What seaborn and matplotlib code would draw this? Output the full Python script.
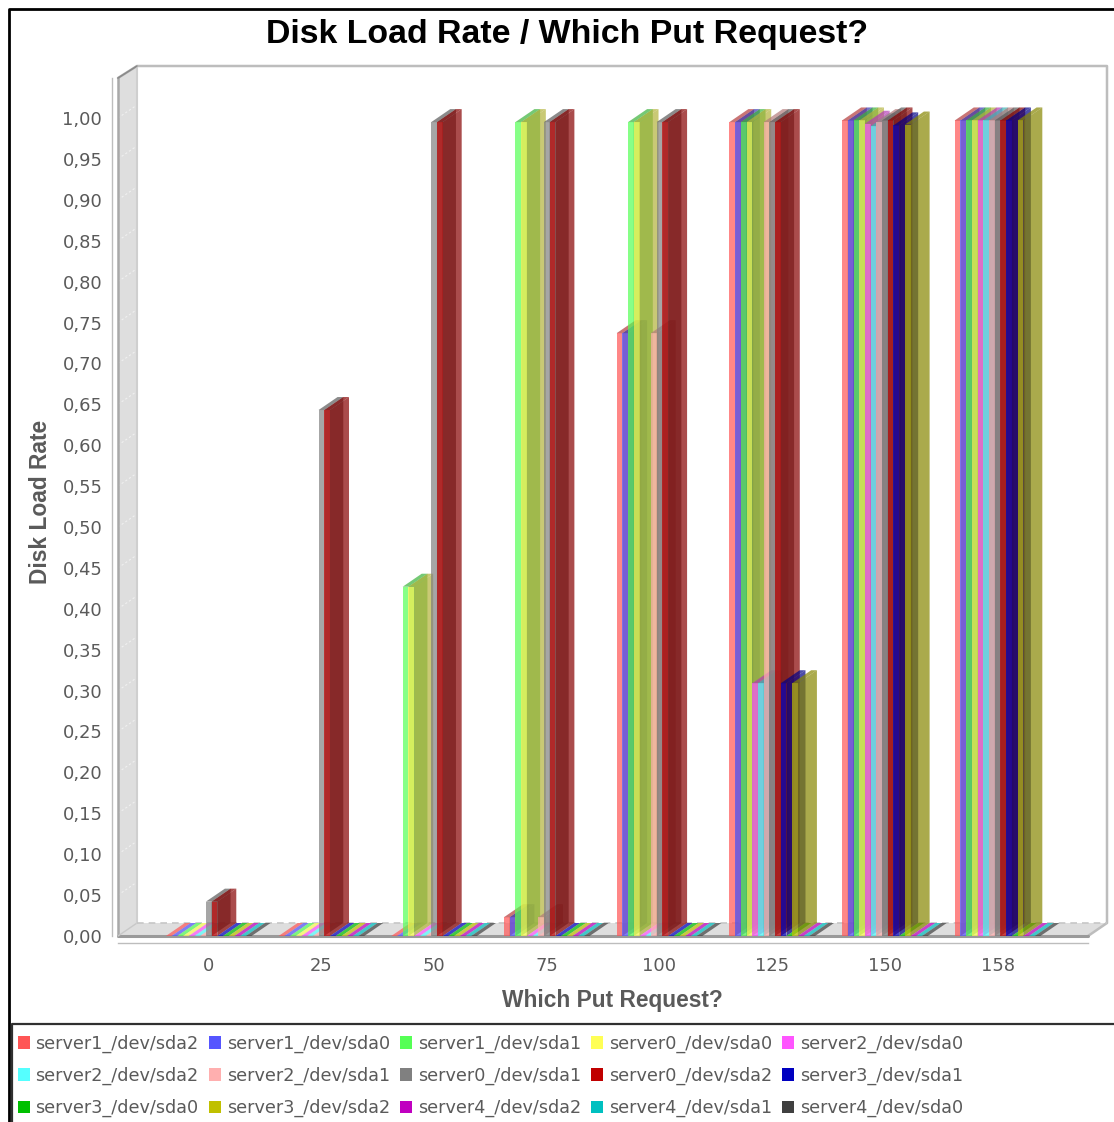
import numpy as np
import pandas as pd
import matplotlib
matplotlib.use("Agg")
import matplotlib.pyplot as plt
from matplotlib.colors import to_rgb
from matplotlib.lines import Line2D
from matplotlib.patches import Patch, Polygon
import seaborn as sns

# Load rate per disk at each sampled put request
put_requests = ["0", "25", "50", "75", "100", "125", "150", "158"]
server1_sda2 = [0, 0, 0, 0.023, 0.737, 0.995, 0.997, 0.997]
server1_sda0 = [0, 0, 0, 0.023, 0.737, 0.995, 0.997, 0.997]
server1_sda1 = [0, 0, 0.427, 0.995, 0.995, 0.995, 0.997, 0.997]
server0_sda0 = [0, 0, 0.427, 0.995, 0.995, 0.995, 0.997, 0.997]
server2_sda0 = [0, 0, 0, 0, 0, 0.309, 0.993, 0.997]
server2_sda2 = [0, 0, 0, 0, 0, 0.309, 0.990, 0.997]
server2_sda1 = [0, 0, 0, 0.023, 0.737, 0.995, 0.995, 0.997]
server0_sda1 = [0.042, 0.643, 0.995, 0.995, 0.995, 0.995, 0.997, 0.997]
server0_sda2 = [0.042, 0.643, 0.995, 0.995, 0.995, 0.995, 0.997, 0.997]
server3_sda1 = [0, 0, 0, 0, 0, 0.309, 0.991, 0.997]
server3_sda0 = [0, 0, 0, 0, 0, 0, 0, 0]
server3_sda2 = [0, 0, 0, 0, 0, 0.309, 0.992, 0.997]
server4_sda2 = [0, 0, 0, 0, 0, 0, 0, 0]
server4_sda1 = [0, 0, 0, 0, 0, 0, 0, 0]
server4_sda0 = [0, 0, 0, 0, 0, 0, 0, 0]

disk_names = [
    "server1_/dev/sda2", "server1_/dev/sda0", "server1_/dev/sda1", "server0_/dev/sda0",
    "server2_/dev/sda0", "server2_/dev/sda2", "server2_/dev/sda1", "server0_/dev/sda1",
    "server0_/dev/sda2", "server3_/dev/sda1", "server3_/dev/sda0", "server3_/dev/sda2",
    "server4_/dev/sda2", "server4_/dev/sda1", "server4_/dev/sda0",
]
disk_values = [
    server1_sda2, server1_sda0, server1_sda1, server0_sda0, server2_sda0,
    server2_sda2, server2_sda1, server0_sda1, server0_sda2, server3_sda1,
    server3_sda0, server3_sda2, server4_sda2, server4_sda1, server4_sda0,
]
disk_colors = [
    "#FF5555", "#5555FF", "#55FF55", "#FFFF55", "#FF55FF",
    "#55FFFF", "#FFAFAF", "#808080", "#C00000", "#0000C0",
    "#00C000", "#C0C000", "#C000C0", "#00C0C0", "#404040",
]

table = pd.DataFrame(
    [(req, name, val)
     for name, vals in zip(disk_names, disk_values)
     for req, val in zip(put_requests, vals)],
    columns=["request", "disk", "rate"],
)

W, H = 1114, 1122
DPI = 100
LEFT, RIGHT, BASE, TOP = 118, 1088, 936, 78   # front plot box, pixels
DEPTH_X, DEPTH_Y = 19, 13                     # extrusion of the 3D effect, pixels
GROUP_PX, UNIT_PX = 112.7, 818.0              # pixels per category and per 1.0 of rate
TEXT = "#5a5a5a"
EDGE = "#bdbdbd"
BAR_ALPHA = 0.7
HEAD_FONT = "Liberation Sans"

sns.set_theme(style="white")
plt.rcParams["font.family"] = ["DejaVu Sans"]

fig = plt.figure(figsize=(W / DPI, H / DPI), dpi=DPI, facecolor="white")
ax = fig.add_axes([LEFT / W, 1 - BASE / H, (RIGHT - LEFT) / W, (BASE - TOP) / H])
ax.patch.set_visible(False)

sns.barplot(
    data=table, x="request", y="rate", hue="disk",
    order=put_requests, hue_order=disk_names, palette=disk_colors,
    width=0.76, saturation=1, legend=False, errorbar=None, ax=ax,
)

x_lo, x_hi = -0.805, 7.802
y_top = (BASE - TOP) / UNIT_PX
ax.set_xlim(x_lo, x_hi)
ax.set_ylim(0, y_top)
dx, dy = DEPTH_X / GROUP_PX, DEPTH_Y / UNIT_PX


def face(points, color, z, alpha=1.0):
    ax.add_patch(Polygon(points, closed=True, facecolor=color, edgecolor="none",
                         alpha=alpha, zorder=z, clip_on=False))


def edge(xs, ys, color=EDGE, lw=1.5, z=1.5, **kw):
    ax.add_line(Line2D(xs, ys, color=color, lw=lw, zorder=z, clip_on=False, **kw))


# Side wall, floor and back wall of the 3D plot box
back_top = y_top + 12 / UNIT_PX
face([(x_lo, 0), (x_lo + dx, dy), (x_lo + dx, back_top), (x_lo, y_top)], "#dedede", 1.1)
face([(x_lo, 0), (x_lo + dx, dy), (x_hi + dx, dy), (x_hi, 0)], "#dedede", 1.1)
edge([x_lo, x_lo + dx, x_hi + dx, x_hi + dx, x_hi],
     [y_top, back_top, back_top, dy, 0], lw=1.8)
edge([x_lo, x_lo + dx], [y_top, back_top], color="#8a8a8a", lw=1.2, z=1.6)
edge([x_lo, x_lo], [0, y_top], color="#a8a8a8", lw=1.8)
edge([x_lo, x_hi], [0, 0], color="#9a9a9a", lw=2.2)
edge([x_lo, x_lo + dx], [0, dy], color="#c8c8c8", lw=1.0)
edge([x_lo + dx, x_lo + dx], [dy, back_top], color="#cfcfcf", lw=1.5)
edge([x_lo + dx, x_hi + dx], [dy, dy], color="#c6c6c6", lw=1.2, linestyle=(0, (4, 3)))

# Faint range gridlines carried across the side wall
y_ticks = np.arange(0, 21) * 0.05
for level in y_ticks[1:]:
    ax.add_line(Line2D([x_lo, x_lo + dx], [level, level + dy], color="white", lw=0.8,
                       alpha=0.55, zorder=1.2, clip_on=False, linestyle=(0, (2, 2))))

# Extrude every bar drawn by seaborn: front, darker right side, then top.
# Empty bars only leave a lighter stripe on the floor.
for s, (container, color) in enumerate(zip(ax.containers, disk_colors)):
    base_z = 3 + s * 3
    rgb = np.array(to_rgb(color))
    dark = tuple(rgb * 0.7)
    for bar in container:
        x0 = bar.get_x()
        x1 = x0 + bar.get_width()
        h = bar.get_height()
        bar.set_zorder(base_z)
        bar.set_edgecolor("none")
        bar.set_linewidth(0)
        bar.set_alpha(BAR_ALPHA)
        face([(x1, 0), (x1 + dx, dy), (x1 + dx, h + dy), (x1, h)], dark, base_z + 1, BAR_ALPHA)
        face([(x0, h), (x0 + dx, h + dy), (x1 + dx, h + dy), (x1, h)],
             dark if h > 0 else tuple(rgb), base_z + 2, BAR_ALPHA)

# Axes, ticks and labels
sns.despine(ax=ax, top=True, right=True)
for side, gap in (("left", 6), ("bottom", 7)):
    ax.spines[side].set_position(("outward", gap * 72 / DPI))
    ax.spines[side].set_color(EDGE)
    ax.spines[side].set_linewidth(1.0)
ax.set_xticks(np.arange(len(put_requests)), put_requests)
ax.set_yticks(y_ticks, [f"{v:.2f}".replace(".", ",") for v in y_ticks])
ax.tick_params(axis="both", length=3, width=1, color="#a0a0a0",
               labelcolor=TEXT, labelsize=12.9)
ax.tick_params(axis="y", pad=4)
ax.tick_params(axis="x", pad=7)
ax.set_xlabel("")
ax.set_ylabel("")

fig.text(567 / W, 1 - 34 / H, "Disk Load Rate / Which Put Request?", ha="center", va="center",
         fontsize=24.4, fontweight="bold", family=HEAD_FONT, color="black")
fig.text(612 / W, 1 - 1001 / H, "Which Put Request?", ha="center", va="center",
         fontsize=16.4, fontweight="bold", family=HEAD_FONT, color=TEXT)
fig.text(41 / W, 1 - 502 / H, "Disk Load Rate", ha="center", va="center", rotation=90,
         fontsize=16.4, fontweight="bold", family=HEAD_FONT, color=TEXT)

# Chart frame and legend box
fig.add_artist(Line2D([9 / W, 9 / W, 1], [0, 1 - 9 / H, 1 - 9 / H], color="black", lw=2.0))
fig.add_artist(Line2D([12 / W, 12 / W, 1], [0, 1 - 1024 / H, 1 - 1024 / H], color="#303030", lw=1.6))

n_rows, n_cols = 3, 5
handles = [Patch(facecolor=c, edgecolor="none", label=n) for c, n in zip(disk_colors, disk_names)]
column_first = [handles[r * n_cols + c] for c in range(n_cols) for r in range(n_rows)]
size = 12.7
px = size * DPI / 72
fig.legend(
    handles=column_first, ncol=n_cols, frameon=False, loc="upper left",
    bbox_to_anchor=(17.5 / W, 1 - 1034.5 / H), borderaxespad=0, borderpad=0,
    fontsize=size, labelcolor=TEXT, handlelength=12 / px, handleheight=0.7,
    handletextpad=6 / px, columnspacing=10.1 / px, labelspacing=14.0 / px,
)

fig.savefig("out.png", dpi=DPI, facecolor="white")
